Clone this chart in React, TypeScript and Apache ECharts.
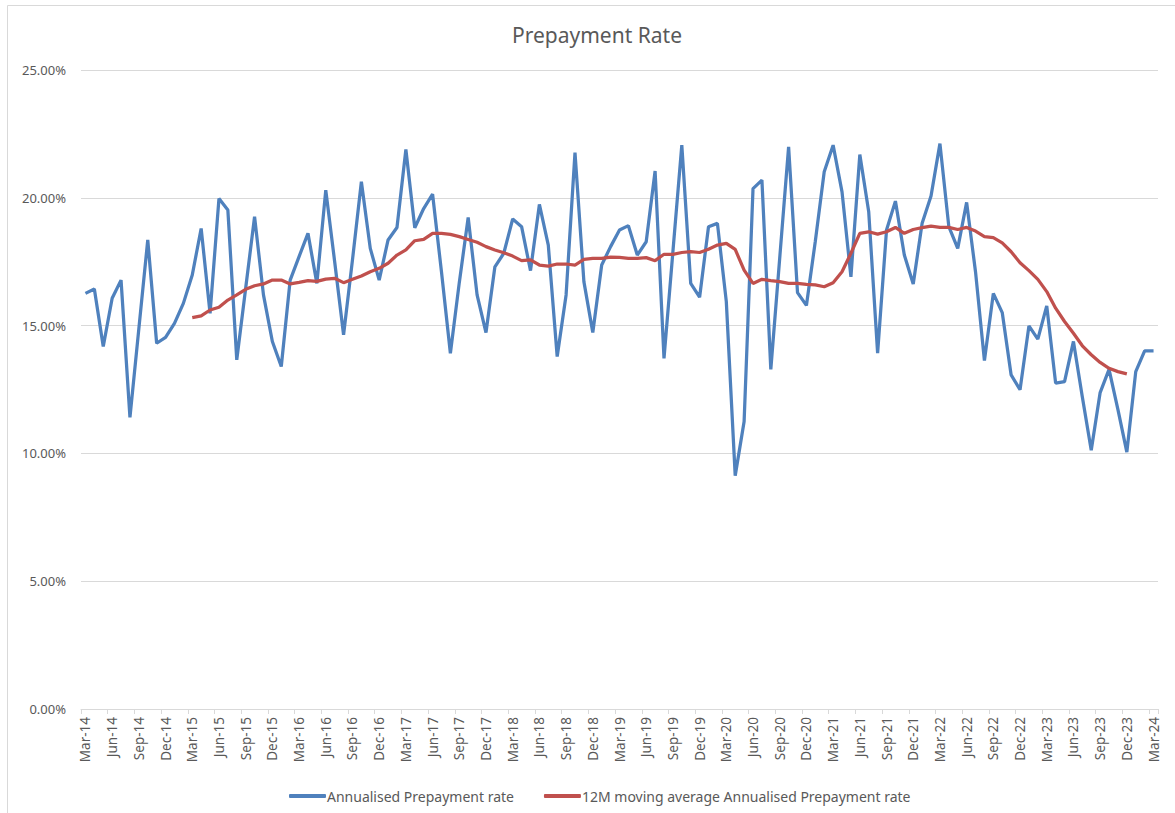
import React, { useEffect, useRef } from "react";
import * as echarts from "echarts";

const monthNames = ["Jan", "Feb", "Mar", "Apr", "May", "Jun", "Jul", "Aug", "Sep", "Oct", "Nov", "Dec"];
const startYear = 2014;
const startMonth = 2; // March
const monthCount = 121;

const categories: string[] = [];
for (let i = 0; i < monthCount; i++) {
  const m = (startMonth + i) % 12;
  const y = startYear + Math.floor((startMonth + i) / 12);
  categories.push(`${monthNames[m]}-${String(y % 100).padStart(2, "0")}`);
}

const annualisedRate = [
  16.26, 16.43, 14.18, 16.07, 16.78, 11.41, 14.88, 18.35, 14.31, 14.54, 15.09, 15.87,
  16.98, 18.8, 15.48, 19.97, 19.52, 13.66, 16.46, 19.26, 16.2, 14.38, 13.4, 16.78,
  17.7, 18.61, 16.65, 20.3, 17.5, 14.64, 17.57, 20.63, 18.02, 16.78, 18.35, 18.84,
  21.89, 18.83, 19.58, 20.14, 17.1, 13.92, 16.68, 19.23, 16.2, 14.73, 17.3, 17.83,
  19.17, 18.87, 17.15, 19.74, 18.15, 13.79, 16.2, 21.77, 16.72, 14.73, 17.37, 18.09,
  18.74, 18.91, 17.76, 18.28, 21.05, 13.72, 17.89, 22.06, 16.65, 16.11, 18.87, 19.0,
  15.94, 9.13, 11.25, 20.36, 20.69, 13.29, 17.64, 21.99, 16.29, 15.79, 18.3, 21.02,
  22.06, 20.23, 16.91, 21.69, 19.45, 13.92, 18.74, 19.87, 17.76, 16.63, 19.0, 20.07,
  22.12, 18.87, 18.02, 19.82, 17.1, 13.63, 16.26, 15.51, 13.07, 12.49, 14.99, 14.47,
  15.77, 12.75, 12.81, 14.38, 12.21, 10.12, 12.38, 13.29, 11.71, 10.05, 13.2, 14.01,
  14.01,
];

// 12M moving average, starting Mar-15 (index 12), ending Dec-23 (index 117)
const movingAverageStart = 12;
const movingAverage = [
  15.31, 15.38, 15.61, 15.72, 16.0, 16.2, 16.42, 16.56, 16.63, 16.78, 16.78, 16.63,
  16.69, 16.76, 16.73, 16.82, 16.85, 16.68, 16.81, 16.94, 17.11, 17.24, 17.44, 17.76,
  17.96, 18.32, 18.37, 18.61, 18.61, 18.57, 18.48, 18.37, 18.26, 18.09, 17.96, 17.85,
  17.72, 17.54, 17.57, 17.37, 17.33, 17.41, 17.41, 17.37, 17.59, 17.63, 17.63, 17.68,
  17.67, 17.63, 17.63, 17.66, 17.54, 17.79, 17.79, 17.86, 17.89, 17.86, 17.99, 18.15,
  18.22, 17.98, 17.17, 16.65, 16.81, 16.76, 16.72, 16.65, 16.65, 16.61, 16.59, 16.52,
  16.68, 17.11, 17.83, 18.61, 18.67, 18.58, 18.67, 18.84, 18.61, 18.76, 18.83, 18.89,
  18.84, 18.84, 18.76, 18.84, 18.7, 18.48, 18.44, 18.24, 17.89, 17.46, 17.15, 16.81,
  16.33, 15.68, 15.16, 14.7, 14.21, 13.86, 13.56, 13.33, 13.2, 13.11,
];

const seriesNames = ["Annualised Prepayment rate", "12M moving average Annualised Prepayment rate"];

export default function App() {
  const ref = useRef<HTMLDivElement>(null);
  useEffect(() => {
    if (!ref.current) return;
    const chart = echarts.init(ref.current, null, { renderer: "svg" });
    const maData: (number | null)[] = categories.map((_, i) => {
      const k = i - movingAverageStart;
      return k >= 0 && k < movingAverage.length ? movingAverage[k] : null;
    });
    const font = "'Noto Sans', sans-serif";
    chart.setOption({
      animation: false,
      backgroundColor: "#ffffff",
      textStyle: { fontFamily: font },
      title: {
        text: "Prepayment Rate",
        left: 592,
        top: 19,
        textAlign: "center",
        textStyle: { fontFamily: font, fontSize: 21, fontWeight: "normal", color: "#595959" },
      },
      graphic: [
        {
          type: "rect",
          shape: { x: 7.5, y: 5.5, width: 1200, height: 900 },
          style: { fill: "none", stroke: "#d9d9d9", lineWidth: 1 },
          silent: true,
        },
      ],
      legend: {
        top: 784,
        left: 284,
        itemWidth: 37,
        itemHeight: 4,
        itemGap: 30,
        icon: "roundRect",
        textStyle: { fontFamily: font, fontSize: 14, color: "#595959", padding: [0, 0, 0, -4] },
        data: seriesNames,
      },
      grid: { left: 81, right: 17, top: 70, bottom: 104, containLabel: false },
      xAxis: {
        type: "category",
        data: categories,
        boundaryGap: true,
        axisLine: { lineStyle: { color: "#d9d9d9", width: 1 } },
        axisTick: { show: true, interval: 2, length: 5, lineStyle: { color: "#d9d9d9" } },
        axisLabel: {
          interval: 2,
          rotate: 90,
          fontFamily: font,
          fontSize: 13.5,
          color: "#595959",
          margin: 8,
        },
        splitLine: { show: false },
      },
      yAxis: {
        type: "value",
        min: 0,
        max: 25,
        interval: 5,
        axisLine: { show: false },
        axisTick: { show: false },
        axisLabel: {
          formatter: (v: number) => v.toFixed(2) + "%",
          fontFamily: font,
          fontSize: 13,
          color: "#595959",
          margin: 15,
        },
        splitLine: { lineStyle: { color: "#d9d9d9", width: 1 } },
      },
      series: [
        {
          name: seriesNames[0],
          type: "line",
          data: annualisedRate,
          symbol: "none",
          lineStyle: { color: "#4f81bd", width: 3.25 },
          itemStyle: { color: "#4f81bd" },
        },
        {
          name: seriesNames[1],
          type: "line",
          data: maData,
          symbol: "none",
          connectNulls: false,
          lineStyle: { color: "#c0504d", width: 3.25 },
          itemStyle: { color: "#c0504d" },
        },
      ],
    });
    return () => chart.dispose();
  }, []);
  return (
    <div
      ref={ref}
      style={{ position: "absolute", left: 0, top: 0, width: 1175, height: 813 }}
    />
  );
}
